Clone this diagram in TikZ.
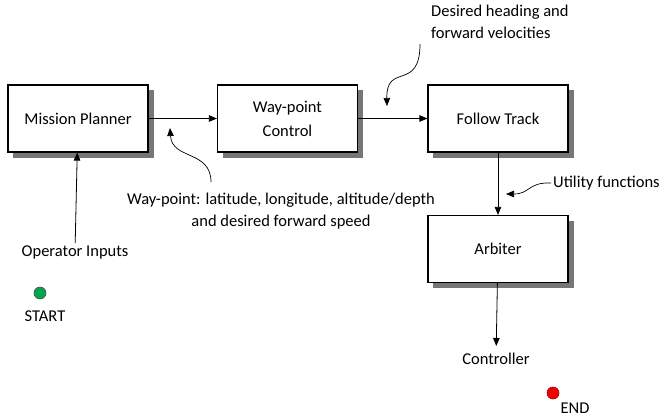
\documentclass[tikz,border=0pt]{standalone}
\usepackage{fontspec}
\setmainfont{Carlito}
\usetikzlibrary{arrows.meta, positioning}
\definecolor{shadowgray}{RGB}{118,118,118}
\definecolor{startgreen}{RGB}{0,166,80}
\definecolor{endred}{RGB}{240,0,0}

\begin{document}
\begin{tikzpicture}[
    x=1pt, y=-1pt,
    block/.style={
        rectangle,
        draw=black,
        fill=white,
        line width=1.2pt,
        minimum width=140pt,
        minimum height=67pt,
        align=center,
        font=\fontsize{16.5}{24}\selectfont
    },
    block_shadow/.style={
        fill=shadowgray
    },
    link/.style={
        -{Triangle[length=8pt, width=6.5pt]},
        line width=0.8pt
    },
    note_link/.style={
        -{Triangle[length=8pt, width=6.5pt]},
        line width=0.7pt
    },
    label_text/.style={
        font=\fontsize{16.5}{22}\selectfont,
        align=center,
        inner sep=2pt
    },
    dot/.style={
        circle,
        minimum size=12pt,
        inner sep=0pt,
        line width=0.6pt
    }
]
    \useasboundingbox (0,0) rectangle (660,417);

    % block centres
    \coordinate (planner_c) at (78,118.5);
    \coordinate (waypoint_c) at (287.5,118.5);
    \coordinate (track_c) at (498,118.5);
    \coordinate (arbiter_c) at (498,249);

    % shadows first, blocks on top
    \foreach \c in {planner_c, waypoint_c, track_c, arbiter_c}
        \fill[block_shadow] (\c) ++(-65,-28.5) rectangle ++(140.5,67.5);

    % BLOCKS
    \node[block] (planner) at (planner_c) {Mission Planner};
    \node[block] (waypoint) at (waypoint_c) {Way-point\\Control};
    \node[block] (track) at (track_c) {Follow Track};
    \node[block] (arbiter) at (arbiter_c) {Arbiter};

    % TERMINALS
    \node[label_text] (operator) at (75,252) {Operator Inputs};
    \node[label_text] (controller) at (496,359) {Controller};
    \node[dot, draw=black!70, fill=startgreen] (start) at (40,293) {};
    \node[label_text] (start_text) at (45,316) {START};
    \node[dot, draw=red!60!black, fill=endred] (end) at (553,393) {};
    \node[label_text] (end_text) at (575,408) {END};

    % NOTES
    \node[label_text] (wp_note) at (281,211) {Way-point: latitude, longitude, altitude/depth\\and desired forward speed};
    \node[label_text, align=left, anchor=north west] (head_note) at (429,3) {Desired heading and\\forward velocities};
    \node[label_text, anchor=west] (util_note) at (551,183) {Utility functions};

    \coordinate (wp_tail) at (211,182);
    \coordinate (wp_tip) at (170,128);
    \coordinate (head_tail) at (420,44);
    \coordinate (head_tip) at (387,106);
    \coordinate (util_tip) at (506,194);

    % MAIN FLOW
    \draw[link] (planner) -- (waypoint);
    \draw[link] (waypoint) -- (track);
    \draw[link] (track) -- (arbiter);
    \draw[link, shorten >=5pt] (arbiter) -- (controller);
    \draw[link] (operator) -- (planner);

    % ANNOTATION ARROWS
    \draw[note_link] (wp_tail) .. controls (211,150) and (172,160) .. (wp_tip);
    \draw[note_link] (head_tail) .. controls (420,92) and (386,62) .. (head_tip);
    \draw[note_link] (util_note.west) .. controls (528,182) and (530,194) .. (util_tip);

\end{tikzpicture}
\end{document}
